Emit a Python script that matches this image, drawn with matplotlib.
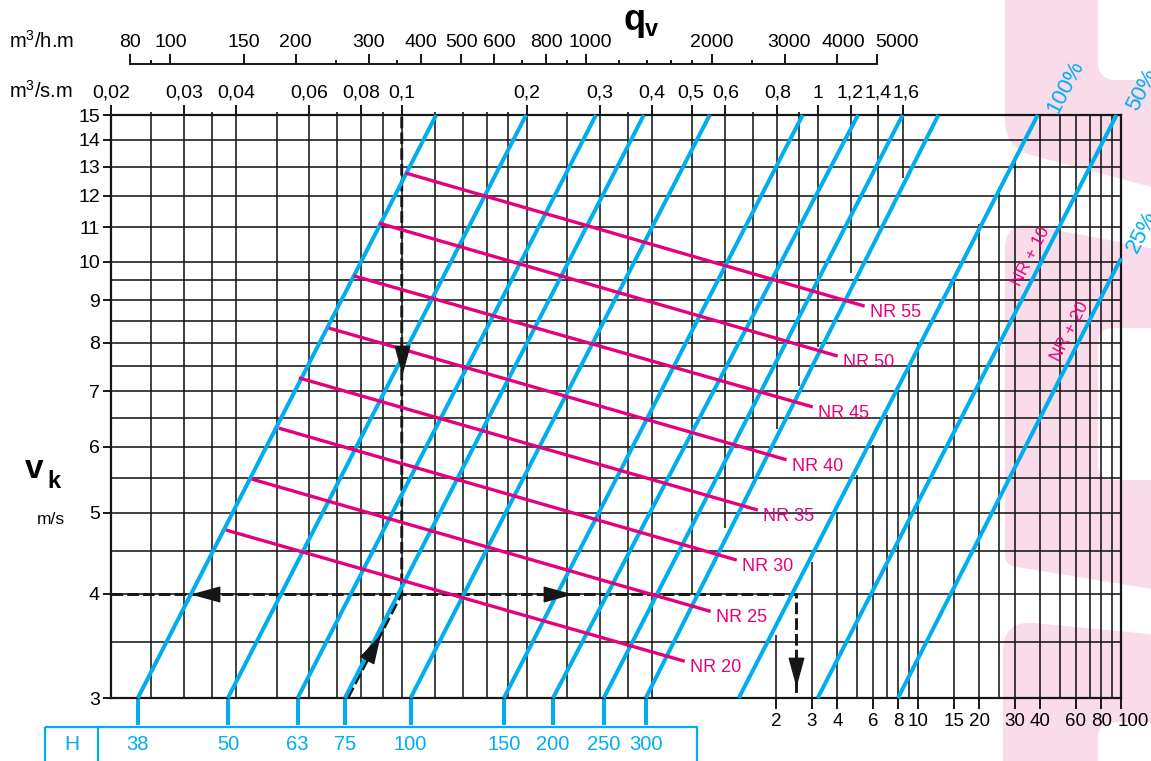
import numpy as np
import matplotlib
matplotlib.use("Agg")
import matplotlib.pyplot as plt
from matplotlib import font_manager
from matplotlib.path import Path
from matplotlib.patches import PathPatch, Rectangle
from matplotlib.transforms import blended_transform_factory, Affine2D
from matplotlib.ticker import NullLocator, NullFormatter
from matplotlib.markers import MarkerStyle

plt.rcParams["font.family"] = ["Liberation Sans", "DejaVu Sans"]
_names = {f.name for f in font_manager.fontManager.ttflist}
HAS_NARROW = "Liberation Sans Narrow" in _names
NARROW = ["Liberation Sans Narrow", "Liberation Sans"] if HAS_NARROW else ["Liberation Sans"]

BLUE = "#00aeef"
MAGENTA = "#e5007d"
PINK = "#f9dbe9"
INK = "#161616"

# axis ranges: q (m3/s.m) horizontally, v_k (m/s) vertically, both log
Q_MIN, Q_MAX = 0.02, 5.36
V_MIN, V_MAX = 3, 15
S_EXP = 2.05          # bottom-right scale runs at ~half the q decade length

q_ticks = [0.02, 0.03, 0.04, 0.06, 0.08, 0.1, 0.2, 0.3, 0.4, 0.5, 0.6, 0.8, 1, 1.2, 1.4, 1.6]
q_labels = ["0,02", "0,03", "0,04", "0,06", "0,08", "0,1", "0,2", "0,3", "0,4",
            "0,5", "0,6", "0,8", "1", "1,2", "1,4", "1,6"]
q_label_dx = [0, 0, 0, 0, 0, 0, 0, 0, 0, -2, 0, 0, 0, -1, 0, 3]
h_ticks = [80, 100, 150, 200, 300, 400, 500, 600, 800, 1000, 2000, 3000, 4000, 5000]
h_label_dx = [0, 0, 0, 0, 0, 0, 0, 5, 0, 4, 0, 4, 7, 20]
h_minor = [90, 250, 350, 700, 900, 1200, 1400, 1600, 1800, 2500]
v_ticks = [3, 4, 5, 6, 7, 8, 9, 10, 11, 12, 13, 14, 15]
s_ticks = [2, 3, 4, 6, 8, 10, 15, 20, 30, 40, 60, 80, 100]
s_label_dx = [0, 0, 0, 0, 0, 0, 0, 0, 0, 0, 0, 0, 12]

# grid
grid_v = [3.5, 4, 4.5, 5, 5.5, 6, 6.5, 7, 7.5, 8, 8.5, 9, 9.5, 10, 11, 12, 13, 14]
grid_q_full = [0.025, 0.03, 0.035, 0.04, 0.05, 0.06, 0.07, 0.08, 0.09, 0.1,
               0.12, 0.14, 0.16, 0.18, 0.2, 0.25, 0.3, 0.35, 0.4]
grid_q_upper = [0.5, 0.6, 0.7, 0.8, 0.9, 1.0, 1.2, 1.4, 1.6]
grid_q_upper_low = [4.0, 4.8, 5.5, 6.3, 7.1, 7.9, 9.7, 11.0, 12.6]
grid_s = [2, 3, 4, 5, 6, 7, 8, 9, 10, 15, 20, 25, 30, 40, 50, 60, 70, 80, 90]
grid_s_high = [3.57, 4.37, 5.0, 5.56, 6.03, 6.55, 7.0, 7.47, 8.0, 9.6, 11.1, 12.3, 13.3,
               15, 15, 15, 15, 15, 15]

# blue lines (H values, then 100 / 50 / 25 %)
H_values = [38, 50, 63, 75, 100, 150, 200, 250, 300]
line_q_bottom = [0.0232, 0.0382, 0.0562, 0.073, 0.105, 0.176, 0.231, 0.306, 0.386,
                 0.646, 1.0, 1.56]
line_q_top = [0.121, 0.199, 0.293, 0.382, 0.55, 0.92, 1.25, 1.6, 1.95, 3.38, 5.23, 5.36]
line_v_top = [15, 15, 15, 15, 15, 15, 15, 15, 15, 15, 15, 10.1]

# NR curves
nr_levels = [20, 25, 30, 35, 40, 45, 50, 55]
nr_q_start = [0.0378, 0.0436, 0.0506, 0.0566, 0.0668, 0.0767, 0.0881, 0.1022]
nr_v_start = [4.77, 5.49, 6.32, 7.26, 8.33, 9.62, 11.13, 12.78]
nr_q_end = [0.479, 0.553, 0.639, 0.718, 0.842, 0.973, 1.117, 1.297]
nr_v_end = [3.32, 3.81, 4.39, 5.04, 5.79, 6.70, 7.71, 8.85]

# worked example (dashed)
ex_path_q = [0.0742, 0.1, 0.1]
ex_path_v = [3, 4, 15]
ex_read_q = [0.02, 0.885, 0.885]
ex_read_v = [4, 4, 3]
arrow_q = [0.1, 0.0338, 0.236, 0.885, 0.0852]
arrow_v = [7.65, 4, 4, 3.23, 3.44]
arrow_ang = [-90, 180, 0, -90, 62]


def q_to_s(q):
    return 100 * (np.asarray(q) / Q_MAX) ** S_EXP


def s_to_q(s):
    return Q_MAX * (np.asarray(s) / 100) ** (1 / S_EXP)


def rounded_path(pts, radii):
    pts = [np.array(p, float) for p in pts]
    n = len(pts)
    verts, codes = [], []
    for i in range(n):
        p0, p1, p2 = pts[i - 1], pts[i], pts[(i + 1) % n]
        r = radii[i]
        d0 = (p0 - p1) / np.linalg.norm(p0 - p1)
        d2 = (p2 - p1) / np.linalg.norm(p2 - p1)
        verts += [p1 + d0 * r, p1, p1 + d2 * r]
        codes += [Path.LINETO, Path.CURVE3, Path.CURVE3]
    codes[0] = Path.MOVETO
    verts.append(verts[0])
    codes.append(Path.CLOSEPOLY)
    return Path(verts, codes)


W, HGT = 1151, 761
PLOT_H = 698 - 115
fig = plt.figure(figsize=(W / 100, HGT / 100), dpi=100, facecolor="white")

# background layer in pixel coords: pink page decoration + H box
bg = fig.add_axes([0, 0, 1, 1], zorder=0)
bg.set_xlim(0, W)
bg.set_ylim(HGT, 0)
bg.axis("off")
bands = [
    ([(1005, -20), (1098, -20), (1098, 80), (1170, 80), (1170, 192), (1005, 148)],
     [0, 0, 18, 0, 0, 28]),
    ([(1005, 220), (1170, 252), (1170, 328), (1098, 328), (1098, 480), (1170, 480),
      (1170, 592), (1005, 565)], [30, 0, 0, 16, 16, 0, 0, 10]),
    ([(1003, 620), (1170, 636), (1170, 722), (1098, 722), (1098, 790), (1003, 790)],
     [32, 0, 0, 16, 0, 0]),
]
for pts, rr in bands:
    bg.add_patch(PathPatch(rounded_path(pts, rr), facecolor=PINK, edgecolor="none"))

bg.add_patch(Rectangle((45, 727), 652, 60, facecolor="none", edgecolor=BLUE, lw=1.6))
bg.plot([98, 98], [727, 770], color=BLUE, lw=1.6)
bg.text(72, 745, "H", color=BLUE, fontsize=15, ha="center", va="center", family=NARROW)

bg.text(9, 41, r"m$^{\mathregular{3}}$/h.m", fontsize=14.5, ha="left", va="center")
bg.text(9, 91, r"m$^{\mathregular{3}}$/s.m", fontsize=14.5, ha="left", va="center")
bg.text(624, 21, "q", fontsize=26, fontweight="bold", ha="left", va="center")
bg.text(645, 30, "v", fontsize=17, fontweight="bold", ha="left", va="center")
bg.text(25, 470, "v", fontsize=24, fontweight="bold", ha="left", va="center")
bg.text(47, 482, "k", fontsize=17, fontweight="bold", ha="left", va="center")
bg.text(37, 520, "m/s", fontsize=12.5, ha="left", va="center")

# main nomogram axes
ax = fig.add_axes([111 / W, 1 - 698 / HGT, (1121 - 111) / W, PLOT_H / HGT], zorder=1)
ax.patch.set_alpha(0)
ax.set_xscale("log")
ax.set_yscale("log")
ax.set_xlim(Q_MIN, Q_MAX)
ax.set_ylim(V_MIN, V_MAX)
trans_xa = blended_transform_factory(ax.transData, ax.transAxes)

ax.hlines(grid_v, Q_MIN, Q_MAX, color=INK, lw=1.15, zorder=1)
ax.vlines(grid_q_full, V_MIN, V_MAX, color=INK, lw=1.15, zorder=1)
ax.vlines(grid_q_upper, grid_q_upper_low, V_MAX, color=INK, lw=1.15, zorder=1)
ax.vlines(s_to_q(grid_s), V_MIN, grid_s_high, color=INK, lw=1.15, zorder=1)

for sp in ax.spines.values():
    sp.set_linewidth(1.6)
    sp.set_color(INK)

# top q scale (m3/s.m)
ax.xaxis.set_ticks_position("top")
ax.set_xticks(q_ticks)
ax.set_xticks([q for q in grid_q_full + grid_q_upper if q not in q_ticks], minor=True)
ax.xaxis.set_minor_formatter(NullFormatter())
ax.tick_params(axis="x", which="major", top=True, bottom=False, labeltop=False,
               labelbottom=False, length=7, width=1.4, color=INK)
ax.tick_params(axis="x", which="minor", top=True, bottom=False, labeltop=False,
               labelbottom=False, length=2.5, width=1.2, color=INK)
for q, lab, dx in zip(q_ticks, q_labels, q_label_dx):
    ax.annotate(lab, (q, (698 - 93) / PLOT_H), xycoords=trans_xa, xytext=(dx * 0.72, 0),
                textcoords="offset points", ha="center", va="center", fontsize=14,
                annotation_clip=False)

ax.set_yticks(v_ticks, [str(v) for v in v_ticks])
ax.yaxis.set_minor_locator(NullLocator())
ax.tick_params(axis="y", length=6, width=1.4, pad=2, labelsize=14, color=INK)

# bottom-right scale
sec_b = ax.secondary_xaxis("bottom", functions=(q_to_s, s_to_q))
sec_b.set_xticks(s_ticks)
sec_b.xaxis.set_minor_locator(NullLocator())
sec_b.spines["bottom"].set_visible(False)
sec_b.tick_params(axis="x", length=8, width=1.4, labelbottom=False, color=INK)
for s, dx in zip(s_ticks, s_label_dx):
    ax.annotate(str(s), (float(s_to_q(s)), -(722 - 698) / PLOT_H), xycoords=trans_xa,
                xytext=(dx * 0.72, 0), textcoords="offset points", ha="center",
                va="center", fontsize=13.5, annotation_clip=False)

# top m3/h.m scale
sec_h = ax.secondary_xaxis(1 + (115 - 64) / PLOT_H,
                           functions=(lambda q: np.asarray(q) * 3600,
                                      lambda h: np.asarray(h) / 3600))
sec_h.set_xticks(h_ticks)
sec_h.set_xticks(h_minor, minor=True)
sec_h.xaxis.set_minor_formatter(NullFormatter())
sec_h.spines["top"].set_bounds(h_ticks[0], h_ticks[-1])
sec_h.spines["top"].set_linewidth(1.4)
sec_h.spines["top"].set_color(INK)
sec_h.tick_params(axis="x", which="major", length=7, width=1.4, labeltop=False, color=INK)
sec_h.tick_params(axis="x", which="minor", length=3, width=1.4, color=INK)
for h, dx in zip(h_ticks, h_label_dx):
    ax.annotate(str(h), (h / 3600, (698 - 42) / PLOT_H), xycoords=trans_xa,
                xytext=(dx * 0.72, 0), textcoords="offset points", ha="center",
                va="center", fontsize=14, annotation_clip=False)

# worked example
ax.plot(ex_path_q, ex_path_v, color=INK, lw=2.1, dashes=(4, 1.4), zorder=2, clip_on=False)
ax.plot(ex_read_q, ex_read_v, color=INK, lw=2.1, dashes=(4, 1.4), zorder=2)

# blue H lines
for qb, qt, vt in zip(line_q_bottom, line_q_top, line_v_top):
    ax.plot([qb, qt], [V_MIN, vt], color=BLUE, lw=2.9, solid_capstyle="butt", zorder=3,
            clip_on=False)
for hv, qb in zip(H_values, line_q_bottom):
    ax.plot([qb, qb], [0, -(725 - 698) / PLOT_H], transform=trans_xa, color=BLUE, lw=2.9,
            solid_capstyle="butt", clip_on=False)
    ax.text(qb, -(745 - 698) / PLOT_H, str(hv), transform=trans_xa, color=BLUE,
            fontsize=15.5 if HAS_NARROW else 14.5, ha="center", va="center", family=NARROW)

# NR lines
for lvl, q0, v0, q1, v1 in zip(nr_levels, nr_q_start, nr_v_start, nr_q_end, nr_v_end):
    ax.plot([q0, q1], [v0, v1], color=MAGENTA, lw=2.4, solid_capstyle="butt", zorder=4)
    ax.annotate(f"NR {lvl}", (q1, v1), xytext=(4, -4.5), textcoords="offset points",
                color=MAGENTA, fontsize=13, ha="left", va="center")

# arrow heads
head = [(1, 0), (-1, 0.55), (-1, -0.55), (1, 0)]
for q, v, a in zip(arrow_q, arrow_v, arrow_ang):
    m = MarkerStyle(head, transform=Affine2D().rotate_deg(a))
    ax.plot([q], [v], marker=m, ms=19, color=INK, zorder=5, clip_on=False)

rot = 62.5
ax.text(3.95, 16.2, "100%", color=BLUE, fontsize=16, rotation=rot, rotation_mode="anchor",
        ha="center", va="center", clip_on=False)
ax.text(6.04, 16.1, "50%", color=BLUE, fontsize=16, rotation=rot, rotation_mode="anchor",
        ha="center", va="center", clip_on=False)
ax.text(6.04, 10.86, "25%", color=BLUE, fontsize=16, rotation=rot, rotation_mode="anchor",
        ha="center", va="center", clip_on=False)
ax.text(3.25, 10.16, "NR + 10", color=MAGENTA, fontsize=12.5, rotation=rot,
        rotation_mode="anchor", ha="center", va="center")
ax.text(4.03, 8.26, "NR + 20", color=MAGENTA, fontsize=12.5, rotation=rot,
        rotation_mode="anchor", ha="center", va="center")

fig.savefig("out.png", dpi=100, facecolor="white")
